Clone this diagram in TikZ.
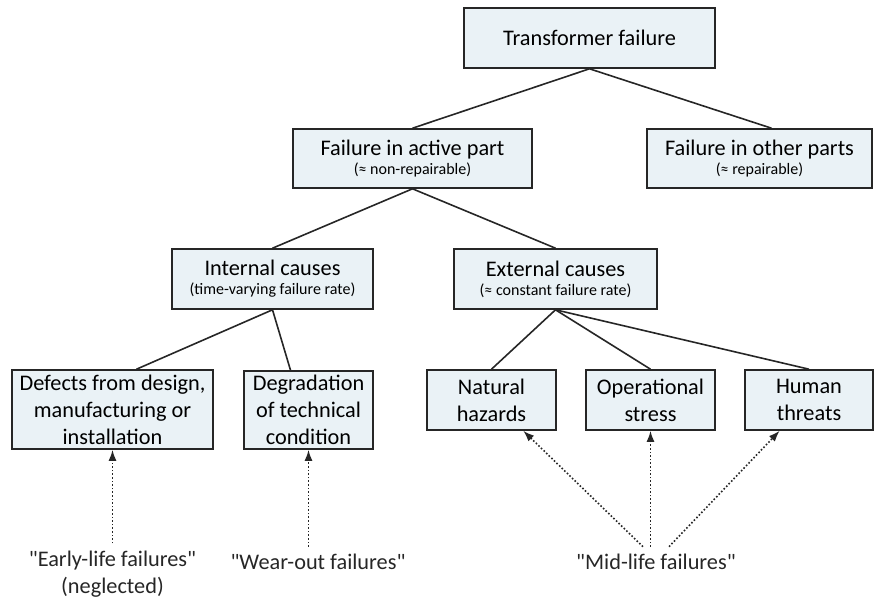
\documentclass[tikz,border=0pt]{standalone}
\usepackage{fontspec}
\setmainfont{Carlito}
\usepackage{tikz}
\usetikzlibrary{shapes,arrows,arrows.meta,positioning}
\definecolor{boxfill}{RGB}{234,242,246}
\newcommand{\subnote}[1]{\\[-4pt]\fontsize{8pt}{9pt}\selectfont #1}
\newcommand{\quoted}[1]{\textquotedbl#1\textquotedbl}

\begin{document}
\begin{tikzpicture}[x=0.5pt, y=-0.5pt, thick]
        \tikzstyle{block} = [rectangle, draw=black!85, fill=boxfill, text centered, align=center, inner sep=0pt, font=\fontsize{11.15pt}{13.5pt}\selectfont]
        \tikzstyle{line} = [draw, black!85]
        \tikzstyle{hint} = [draw, black!85, densely dotted, -{Latex[length=5.5pt,width=4pt]}]
        \tikzstyle{remark} = [align=center, text=black!85, font=\fontsize{11.15pt}{13.5pt}\selectfont]
        \useasboundingbox (0,0) rectangle (874,599);

        \node [block, minimum width=125.5pt, minimum height=30pt] (trafo) at (589.5,38) {Transformer failure};
        \node [block, minimum width=119.5pt, minimum height=29.5pt] (active) at (412.5,158.5) {Failure in active part\subnote{(≈ non-repairable)}};
        \node [block, minimum width=112.5pt, minimum height=29.5pt] (other) at (759.5,158.5) {Failure in other parts\subnote{(≈ repairable)}};
        \node [block, minimum width=100.5pt, minimum height=30pt] (internal) at (272.5,279) {Internal causes\subnote{(time-varying failure rate)}};
        \node [block, minimum width=101.5pt, minimum height=30pt] (external) at (555.5,279) {External causes\subnote{(≈ constant failure rate)}};
        \node [block, minimum width=100.5pt, minimum height=39.5pt] (defects) at (112.5,409.5) {Defects from design,\\manufacturing or\\installation};
        \node [block, minimum width=64.5pt, minimum height=39pt] (degrad) at (308.5,410) {Degradation\\of technical\\condition};
        \node [block, minimum width=64.5pt, minimum height=30pt] (natural) at (491.5,400) {Natural\\hazards};
        \node [block, minimum width=64.5pt, minimum height=30pt] (operat) at (650.5,400) {Operational\\stress};
        \node [block, minimum width=64pt, minimum height=30pt] (human) at (809,400) {Human\\threats};

        \node [remark] (early) at (112.5,574) {\quoted{Early-life failures}\\(neglected)};
        \node [remark] (wear) at (318,562) {\quoted{Wear-out failures}};
        \node [remark] (mid) at (656,562) {\quoted{Mid-life failures}};

        \path [line] (trafo.south) -- (active.north);
        \path [line] (trafo.south) -- ([xshift=6pt]other.north);
        \path [line] (active.south) -- (internal.north);
        \path [line] (active.south) -- (external.north);
        \path [line] (internal.south) -- ([xshift=12pt]defects.north);
        \path [line] (internal.south) -- ([xshift=-9pt]degrad.north);
        \path [line] (external.south) -- (natural.north);
        \path [line] (external.south) -- (operat.north);
        \path [line] (external.south) -- (human.north);

        % dotted hints from the failure periods
        \path [hint] (early) -- (defects);
        \path [hint] (wear.north -| degrad) -- (degrad);
        \path [hint] ([xshift=-6.5pt]mid.north) -- (natural);
        \path [hint] (mid.north -| operat) -- (operat);
        \path [hint] ([xshift=6.5pt]mid.north) -- (human);
    \end{tikzpicture}
\end{document}
